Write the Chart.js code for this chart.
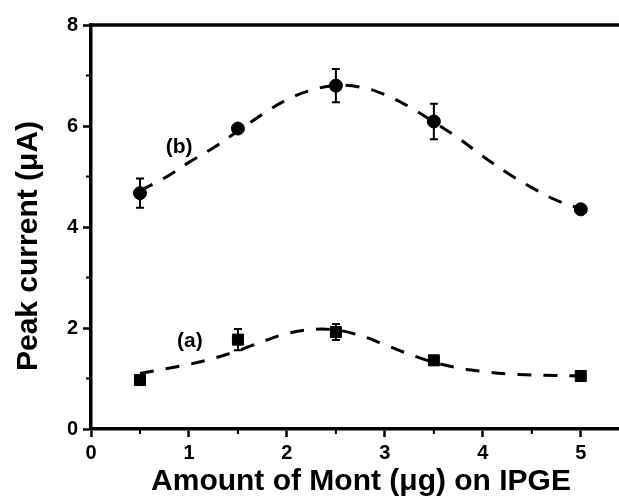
<!DOCTYPE html>
<html>
<head>
<meta charset="utf-8">
<script src="https://cdn.jsdelivr.net/npm/chart.js@4"></script>
<style>
  html, body { margin: 0; padding: 0; background: #fff; }
</style>
</head>
<body>
<canvas id="peakChart" width="619" height="501"></canvas>
<script>
// measured points
const amounts = [0.5, 1.5, 2.5, 3.5, 5];
const currentA = [0.97, 1.77, 1.92, 1.36, 1.05];
const errorA = [0.05, 0.21, 0.16, 0.04, 0.04];
const currentB = [4.67, 5.95, 6.80, 6.09, 4.35];
const errorB = [0.29, 0.05, 0.33, 0.35, 0.05];

// dashed fit curves
const fitX = [0.5, 0.75, 1.0, 1.25, 1.5, 1.75, 2.0, 2.25, 2.5, 2.75, 3.0, 3.25, 3.5, 3.75, 4.0, 4.25, 4.5, 4.75, 5.0];
const fitA = [1.10, 1.19, 1.28, 1.40, 1.55, 1.73, 1.89, 1.97, 1.96, 1.85, 1.67, 1.48, 1.32, 1.21, 1.14, 1.09, 1.07, 1.06, 1.05];
const fitB = [4.72, 4.97, 5.28, 5.57, 5.90, 6.23, 6.52, 6.71, 6.80, 6.77, 6.62, 6.38, 6.08, 5.76, 5.40, 5.07, 4.78, 4.53, 4.36];

const xTicks = [0, 1, 2, 3, 4, 5];
const yTicks = [0, 2, 4, 6, 8];
const xMinor = [0.5, 1.5, 2.5, 3.5, 4.5];
const yMinor = [1, 3, 5, 7];

const seriesLabels = [
  { text: "(b)", x: 0.9, y: 5.59 },
  { text: "(a)", x: 1.01, y: 1.73 },
];

const FONT = "'Liberation Sans', Arial, sans-serif";

function pts(xs, ys) {
  return xs.map((x, i) => ({ x: x, y: ys[i] }));
}

// error bars, minor ticks, top frame line, labels and axis titles
const extras = {
  id: "extras",
  beforeDatasetsDraw(chart) {
    const ctx = chart.ctx;
    const xs = chart.scales.x, ys = chart.scales.y;
    ctx.save();
    ctx.strokeStyle = "#000";
    ctx.lineWidth = 2;
    [[currentA, errorA], [currentB, errorB]].forEach(([vals, errs]) => {
      amounts.forEach((a, i) => {
        const px = xs.getPixelForValue(a);
        const top = ys.getPixelForValue(vals[i] + errs[i]);
        const bot = ys.getPixelForValue(vals[i] - errs[i]);
        ctx.beginPath();
        ctx.moveTo(px, top); ctx.lineTo(px, bot);
        ctx.moveTo(px - 4, top); ctx.lineTo(px + 4, top);
        ctx.moveTo(px - 4, bot); ctx.lineTo(px + 4, bot);
        ctx.stroke();
      });
    });
    ctx.restore();
  },
  afterDraw(chart) {
    const ctx = chart.ctx;
    const area = chart.chartArea;
    const xs = chart.scales.x, ys = chart.scales.y;
    ctx.save();
    ctx.strokeStyle = "#000";
    ctx.fillStyle = "#000";

    // top frame line
    ctx.lineWidth = 3.5;
    ctx.beginPath();
    ctx.moveTo(area.left - 2, area.top);
    ctx.lineTo(chart.width, area.top);
    ctx.stroke();

    // minor ticks
    ctx.lineWidth = 2;
    ctx.beginPath();
    xMinor.forEach(v => {
      const px = xs.getPixelForValue(v);
      ctx.moveTo(px, area.bottom); ctx.lineTo(px, area.bottom + 5);
    });
    yMinor.forEach(v => {
      const py = ys.getPixelForValue(v);
      ctx.moveTo(area.left, py); ctx.lineTo(area.left - 5, py);
    });
    ctx.stroke();

    // series labels
    ctx.font = "bold 21px " + FONT;
    ctx.textAlign = "center";
    ctx.textBaseline = "middle";
    seriesLabels.forEach(l => {
      ctx.fillText(l.text, xs.getPixelForValue(l.x), ys.getPixelForValue(l.y));
    });

    // axis titles
    ctx.font = "bold 30px " + FONT;
    ctx.fillText("Amount of Mont (μg) on IPGE", 361, 482);
    ctx.translate(29, 246);
    ctx.rotate(-Math.PI / 2);
    ctx.fillText("Peak current (μA)", 0, 0);
    ctx.restore();
  }
};

const ctx = document.getElementById("peakChart").getContext("2d");

new Chart(ctx, {
  type: "scatter",
  data: {
    datasets: [
      {
        label: "(b)",
        data: pts(amounts, currentB),
        pointStyle: "circle",
        pointRadius: 6.5,
        backgroundColor: "#000",
        borderColor: "#000",
        showLine: false,
        order: 1,
      },
      {
        label: "(a)",
        data: pts(amounts, currentA),
        pointStyle: "rect",
        pointRadius: 7.8,
        backgroundColor: "#000",
        borderColor: "#000",
        showLine: false,
        order: 1,
      },
      {
        label: "fit (b)",
        type: "line",
        data: pts(fitX, fitB),
        borderColor: "#000",
        borderWidth: 3,
        borderDash: [14, 12],
        pointRadius: 0,
        tension: 0.4,
        fill: false,
        order: 2,
      },
      {
        label: "fit (a)",
        type: "line",
        data: pts(fitX, fitA),
        borderColor: "#000",
        borderWidth: 3,
        borderDash: [14, 12],
        pointRadius: 0,
        tension: 0.4,
        fill: false,
        order: 2,
      },
    ],
  },
  options: {
    responsive: false,
    animation: false,
    layout: { autoPadding: false, padding: { top: 25, right: 0, left: 0, bottom: 0 } },
    plugins: {
      legend: { display: false },
      tooltip: { enabled: false },
    },
    scales: {
      x: {
        type: "linear",
        min: 0,
        max: 5.39,
        afterBuildTicks: (scale) => { scale.ticks = xTicks.map(v => ({ value: v })); },
        afterFit: (scale) => { scale.height = 72; },
        grid: { drawOnChartArea: false, drawTicks: true, tickLength: 8, tickWidth: 2.5, tickColor: "#000" },
        border: { display: true, color: "#000", width: 3.5 },
        ticks: { color: "#000", padding: 4, font: { family: FONT, size: 20, weight: "bold" } },
      },
      y: {
        type: "linear",
        min: 0,
        max: 8,
        afterBuildTicks: (scale) => { scale.ticks = yTicks.map(v => ({ value: v })); },
        afterFit: (scale) => { scale.width = 91; },
        grid: { drawOnChartArea: false, drawTicks: true, tickLength: 8, tickWidth: 2.5, tickColor: "#000" },
        border: { display: true, color: "#000", width: 3.5 },
        ticks: { color: "#000", padding: 5, font: { family: FONT, size: 20, weight: "bold" } },
      },
    },
  },
  plugins: [extras],
});
</script>
</body>
</html>
